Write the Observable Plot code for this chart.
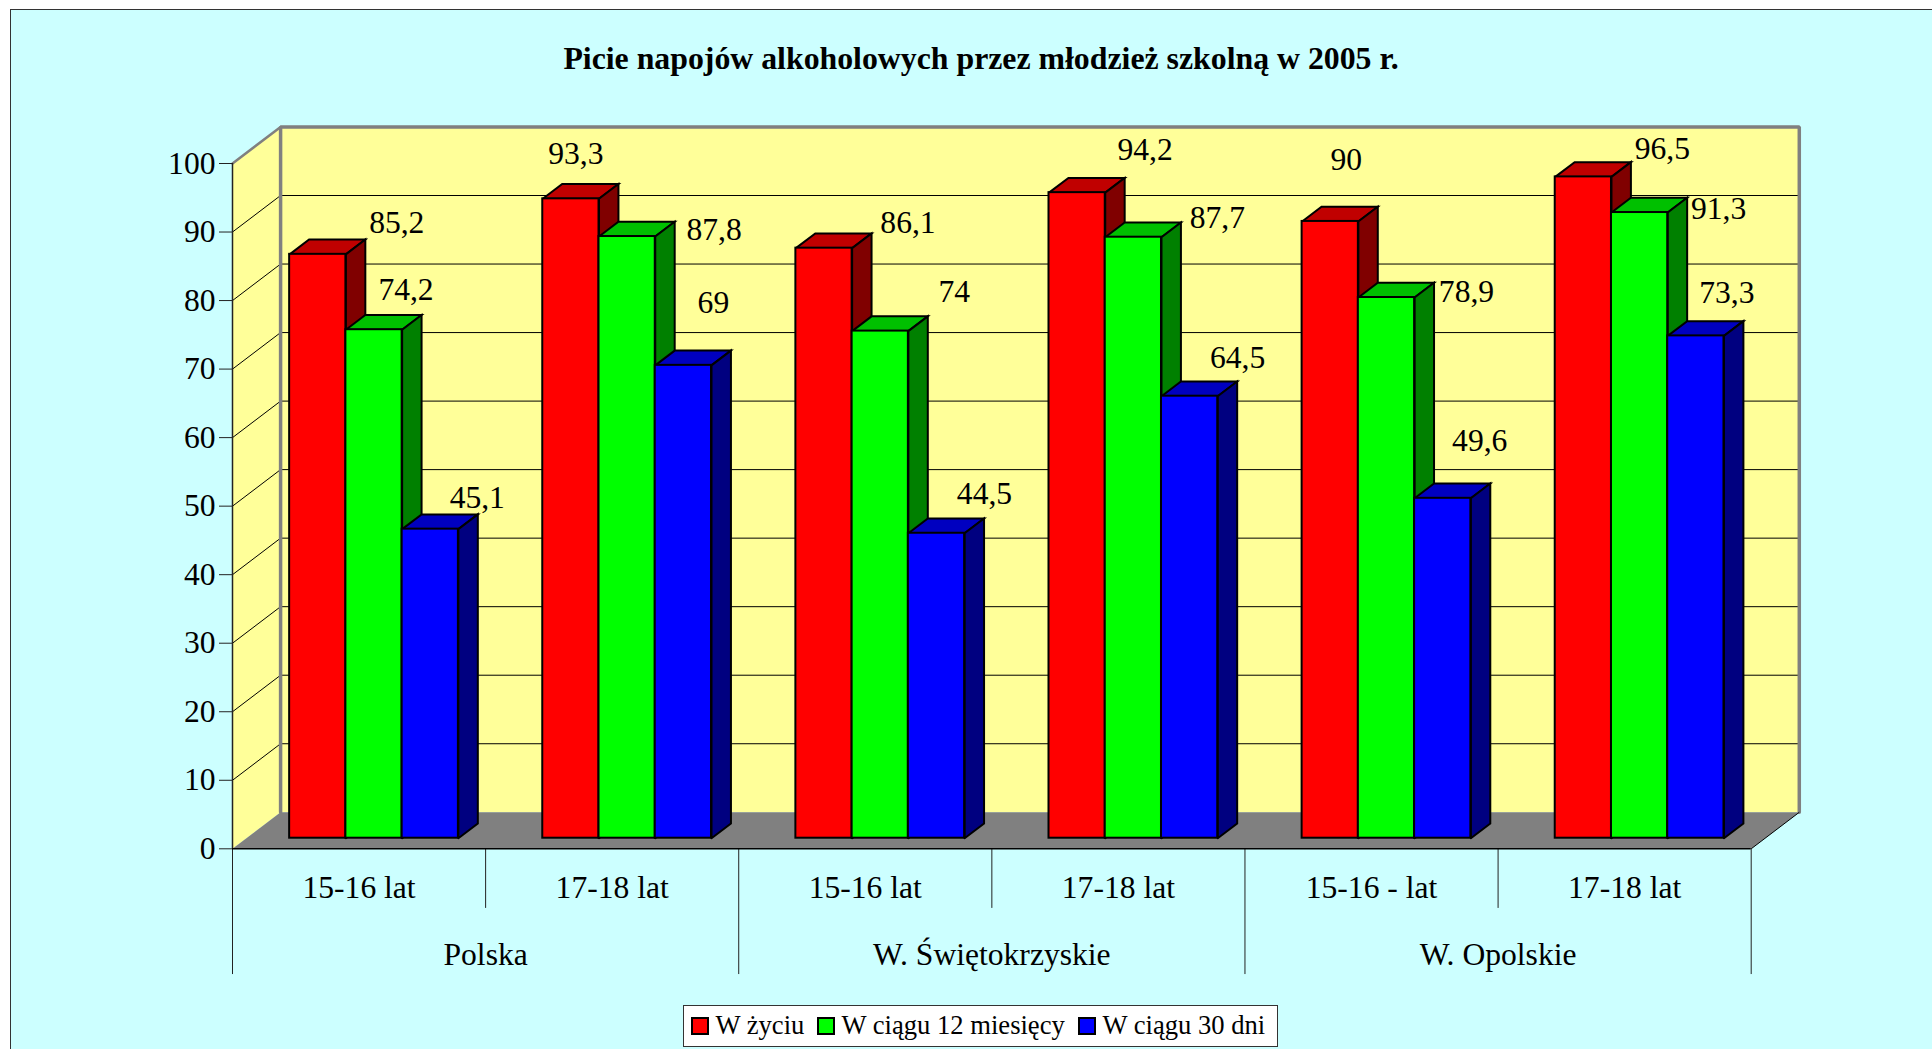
<!DOCTYPE html>
<html lang="pl">
<head>
<meta charset="utf-8">
<title>Picie napojów alkoholowych</title>
<script src="https://cdn.jsdelivr.net/npm/d3@7"></script>
<script src="https://cdn.jsdelivr.net/npm/@observablehq/plot@0.6"></script>
<style>
  html, body { margin: 0; padding: 0; width: 1932px; height: 1049px; overflow: hidden; background: #fff; font-family: "Liberation Serif", serif; color: #000; }
  #frame { position: absolute; left: 10px; top: 9px; width: 2000px; height: 1200px; background: #CCFFFF; border: 1.5px solid #333; box-sizing: border-box; }
  #title { position: absolute; left: 0; top: 0; width: 1962px; height: 118px; text-align: center; font-weight: bold; font-size: 31.8px; line-height: 118px; }
  #chart { position: absolute; left: 0; top: 100px; }
  #legend { position: absolute; left: 682.5px; top: 1005px; width: 595.5px; height: 42px; box-sizing: border-box; background: #fff; border: 1.5px solid #333; font-size: 26.6px; line-height: 39px; white-space: nowrap; }
  #legend span { position: absolute; top: 0; }
  #legend i { position: absolute; top: 10.5px; width: 18px; height: 18px; box-sizing: border-box; border: 2.5px solid #000; }
</style>
</head>
<body>
<div id="frame"></div>
<div id="title">Picie napojów alkoholowych przez młodzież szkolną w 2005 r.</div>
<div id="chart"></div>
<div id="legend"></div>
<script>
// ---- data ----
const ageGroups = ["15-16 lat", "17-18 lat", "15-16 lat", "17-18 lat", "15-16 - lat", "17-18 lat"];
const regions = ["Polska", "W. Świętokrzyskie", "W. Opolskie"];
const seriesNames = ["W życiu", "W ciągu 12 miesięcy", "W ciągu 30 dni"];
const lifetime = [85.2, 93.3, 86.1, 94.2, 90, 96.5];
const months12 = [74.2, 87.8, 74, 87.7, 78.9, 91.3];
const days30 = [45.1, 69, 44.5, 64.5, 49.6, 73.3];
const yTicks = [0, 10, 20, 30, 40, 50, 60, 70, 80, 90, 100];

// ---- styles ----
const frontColors = ["#FF0000", "#00FF00", "#0000FF"];
const topColors = ["#C00000", "#00C000", "#0000C0"];
const sideColors = ["#800000", "#008000", "#000080"];
const wallColor = "#FFFF99";
const floorColor = "#808080";
const fontFamily = "Liberation Serif";
const textSize = 31.6;

// oblique projection: depth 0 = front of chart box, depth 1 = back wall
const depthX = 0.19, depthY = 5.33;
const barDepthFront = 0.29, barDepthBack = 0.694;
const barGap = 1 / 6 + 0.004, barWidth = 2 / 9;
const px = (cat, depth) => cat + depth * depthX;
const py = (val, depth) => val + depth * depthY;

// per-label pixel offsets from the top centre of the bar's front face
const labelOffsets = [
  [[79, -31], [32, -40], [47, -31]],
  [[5, -45], [87, -7], [30, -62]],
  [[84, -25], [74, -39], [48, -39]],
  [[68, -43], [84, -19], [48, -38]],
  [[16, -62], [80, -6], [37, -57]],
  [[79, -28], [79, -4], [31, -43]]
];

const seriesValues = [lifetime, months12, days30];
const bars = [];
ageGroups.forEach((g, i) => {
  seriesValues.forEach((vals, j) => {
    const x0 = i + barGap + j * barWidth;
    bars.push({i, j, v: vals[i], x0, x1: x0 + barWidth});
  });
});

// 3D faces, as closed polygons in data units
function polygon(id, fill, pts) {
  return [...pts, pts[0]].map(([c, v, d]) => ({id, fill, x: px(c, d), y: py(v, d)}));
}
const barFaces = bars.flatMap((b, n) => [
  ...polygon(`top${n}`, topColors[b.j], [[b.x0, b.v, barDepthFront], [b.x1, b.v, barDepthFront], [b.x1, b.v, barDepthBack], [b.x0, b.v, barDepthBack]]),
  ...polygon(`side${n}`, sideColors[b.j], [[b.x1, 0, barDepthFront], [b.x1, b.v, barDepthFront], [b.x1, b.v, barDepthBack], [b.x1, 0, barDepthBack]])
]);
const nCat = ageGroups.length;
const walls = [
  ...polygon("left", wallColor, [[0, 0, 0], [0, 100, 0], [0, 100, 1], [0, 0, 1]]),
  ...polygon("back", wallColor, [[0, 0, 1], [0, 100, 1], [nCat, 100, 1], [nCat, 0, 1]]),
  ...polygon("floor", floorColor, [[0, 0, 0], [0, 0, 1], [nCat, 0, 1], [nCat, 0, 0]])
];
const wallEdge = [[0, 0, 1], [0, 100, 1], [nCat, 100, 1], [nCat, 0, 1]].map(([c, v, d]) => ({x: px(c, d), y: py(v, d)}));
const leftTopEdge = [[0, 100, 0], [0, 100, 1]].map(([c, v, d]) => ({x: px(c, d), y: py(v, d)}));

const shortDrop = -8.7, longDrop = -18.35;
const dividers = d3.range(nCat + 1).map(k => ({x: k, y2: k % 2 === 0 ? longDrop : shortDrop}));

const plot = Plot.plot({
  width: 1932,
  height: 900,
  marginLeft: 232,
  marginRight: 181.3,
  marginTop: 63,
  marginBottom: 151.7,
  x: {domain: [0, nCat], axis: null},
  y: {domain: [0, 100], axis: null},
  color: {type: "identity"},
  style: {background: "transparent", overflow: "visible", fontFamily, color: "#000"},
  marks: [
    Plot.line(walls, {x: "x", y: "y", z: "id", fill: "fill", stroke: "none"}),
    // gridlines on the walls
    Plot.link(yTicks.slice(1), {x1: px(0, 0), x2: px(0, 1), y1: v => py(v, 0), y2: v => py(v, 1), stroke: "#000", strokeWidth: 1}),
    Plot.link(yTicks.slice(1), {x1: px(0, 1), x2: px(nCat, 1), y1: v => py(v, 1), y2: v => py(v, 1), stroke: "#000", strokeWidth: 1}),
    // grey wall outlines
    Plot.line(wallEdge, {x: "x", y: "y", stroke: floorColor, strokeWidth: 3.5, strokeLinejoin: "miter"}),
    Plot.line(leftTopEdge, {x: "x", y: "y", stroke: floorColor, strokeWidth: 2.5}),
    Plot.link([0], {x1: px(nCat, 0), x2: px(nCat, 1), y1: py(0, 0), y2: py(0, 1), stroke: "#000", strokeWidth: 1}),
    // axis lines and category dividers
    Plot.ruleX([0], {y1: 0, y2: 100, stroke: "#222", strokeWidth: 1.5}),
    Plot.ruleX(dividers, {x: "x", y1: 0, y2: "y2", stroke: "#222", strokeWidth: 1}),
    Plot.ruleY([0], {x1: 0, x2: nCat, stroke: "#000", strokeWidth: 1.5}),
    // bars
    Plot.line(barFaces, {x: "x", y: "y", z: "id", fill: "fill", stroke: "#000", strokeWidth: 2, strokeLinejoin: "miter", strokeMiterlimit: 4}),
    Plot.rect(bars, {x1: b => px(b.x0, barDepthFront), x2: b => px(b.x1, barDepthFront), y1: py(0, barDepthFront), y2: b => py(b.v, barDepthFront), fill: b => frontColors[b.j], stroke: "#000", strokeWidth: 2}),
    // y axis
    Plot.axisY({ticks: yTicks, tickSize: 13, tickPadding: 4, fontSize: textSize, tickFormat: d => String(d), stroke: "#222", label: null}),
    // category labels
    Plot.text(ageGroups, {x: (d, i) => i + 0.5, y: 0, dy: 39, text: d => d, fontSize: textSize, fill: "#000"}),
    Plot.text(regions, {x: (d, i) => 2 * i + 1, y: 0, dy: 106, text: d => d, fontSize: textSize, fill: "#000"}),
    // data labels
    bars.map(b => Plot.text([b], {
      x: d => px(d.x0 + barWidth / 2, barDepthFront),
      y: d => py(d.v, barDepthFront),
      text: d => String(d.v).replace(".", ","),
      dx: labelOffsets[b.i][b.j][0],
      dy: labelOffsets[b.i][b.j][1],
      fontSize: textSize,
      fill: "#000"
    }))
  ]
});
document.getElementById("chart").append(plot);

// legend
const legend = document.getElementById("legend");
const swatchLeft = [7, 133, 394];
const textLeft = [32, 158, 419];
seriesNames.forEach((name, k) => {
  const sw = document.createElement("i");
  sw.style.left = swatchLeft[k] + "px";
  sw.style.background = frontColors[k];
  const tx = document.createElement("span");
  tx.style.left = textLeft[k] + "px";
  tx.textContent = name;
  legend.append(sw, tx);
});
</script>
</body>
</html>
